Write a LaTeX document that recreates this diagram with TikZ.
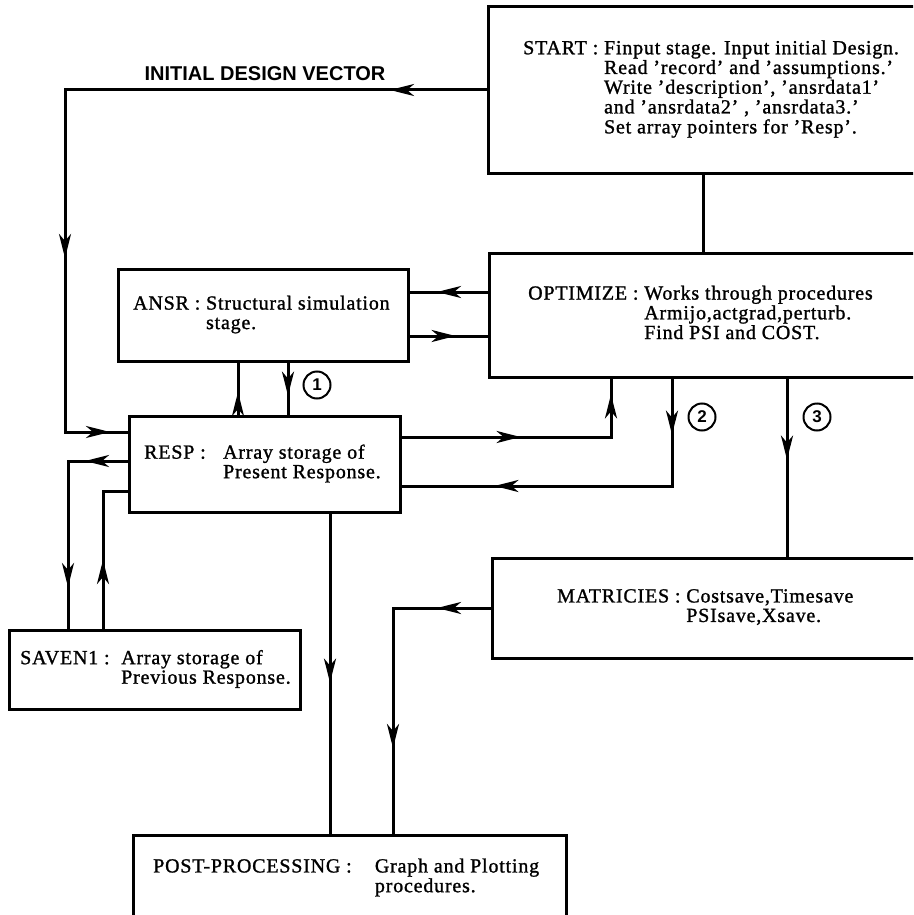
\documentclass[tikz,border=0pt]{standalone}
\usepackage{fontspec}
\setmainfont[LetterSpace=4,FakeBold=1.2]{Liberation Serif}
\newfontfamily\labelfont{Liberation Sans}
\usetikzlibrary{arrows.meta,decorations.markings}

\tikzset{
  box/.style={draw, line width=2.6pt, anchor=north west, inner sep=0pt},
  txt/.style={anchor=west, inner sep=0pt, font=\fontsize{20}{19.5}\selectfont},
  conn/.style={line width=3pt},
  tipat/.style={postaction={decorate,decoration={markings,
      mark=at position #1 with {\arrow{Stealth[length=24pt,width=12pt,inset=7pt]}}}}},
  numc/.style={circle, draw, line width=2pt, minimum size=27pt, inner sep=0pt,
      font=\labelfont\bfseries\fontsize{17}{17}\selectfont},
}

\begin{document}
\begin{tikzpicture}[x=1pt,y=-1pt]
\useasboundingbox (0,0) rectangle (913,915);
\clip (0,0) rectangle (913,915);

\node[box, minimum width=460pt, minimum height=167pt] (start) at (487,5) {};
\node[box, minimum width=460pt, minimum height=124pt] (optim) at (488,252) {};
\node[box, minimum width=290pt, minimum height=92pt] (ansr) at (117,268) {};
\node[box, minimum width=271pt, minimum height=96pt] (resp) at (128,415) {};
\node[box, minimum width=291pt, minimum height=79pt] (saven) at (8,629) {};
\node[box, minimum width=460pt, minimum height=100pt] (matr) at (491,557) {};
\node[box, minimum width=433pt, minimum height=86pt] (post) at (132,834) {};

\node[txt] (starttxt) at ([xshift=36pt]start.west) {\begin{tabular}{@{}l@{\ }l@{}}
START : & Finput stage. Input initial Design.\\
 & Read 'record' and 'assumptions.'\\
 & Write 'description', 'ansrdata1'\\
 & and 'ansrdata2' , 'ansrdata3.'\\
 & Set array pointers for 'Resp'.\end{tabular}};
\node[txt] (optimtxt) at ([xshift=40pt]optim.west) {\begin{tabular}{@{}l@{\ }l@{}}
OPTIMIZE : & Works through procedures\\
 & Armijo,actgrad,perturb.\\
 & Find PSI and COST.\end{tabular}};
\node[txt] (ansrtxt) at ([xshift=16pt]ansr.west) {\begin{tabular}{@{}l@{\ }l@{}}
ANSR : & Structural simulation\\
 & stage.\end{tabular}};
\node[txt] (resptxt) at ([xshift=16pt]resp.west) {\begin{tabular}{@{}l@{\ \ \ }l@{}}
RESP : & Array storage of\\
 & Present Response.\end{tabular}};
\node[txt] (saventxt) at ([xshift=12pt]saven.west) {\begin{tabular}{@{}l@{\ \ }l@{}}
SAVEN1 : & Array storage of\\
 & Previous Response.\end{tabular}};
\node[txt] (matrtxt) at ([xshift=66pt]matr.west) {\begin{tabular}{@{}l@{\ }l@{}}
MATRICIES : & Costsave,Timesave\\
 & PSIsave,Xsave.\end{tabular}};
\node[txt] (posttxt) at ([xshift=21pt]post.west) {\begin{tabular}{@{}l@{\ \ \ \ }l@{}}
POST-PROCESSING : & Graph and Plotting\\
 & procedures.\end{tabular}};

\node[font=\labelfont\bfseries\fontsize{20}{20}\selectfont] (idvlab) at (265,74) {INITIAL DESIGN VECTOR};
\node[numc] (n1) at (317,385) {1};
\node[numc] (n2) at (702,417) {2};
\node[numc] (n3) at (817,417) {3};

\coordinate (idv) at (65,90);
\coordinate (idvb) at (65,432);
\coordinate (sv1) at (68,461);
\coordinate (sv2) at (103,491);
\coordinate (op1) at (611,437);
\coordinate (op2) at (672,486);
\coordinate (mt) at (393,608);

\draw[conn] (start.south -| 703,0) -- (optim.north -| 703,0);
\draw[conn, tipat=97pt, tipat=590pt, tipat=809pt] (start.west |- idv) -- (idv) -- (idvb) -- (resp.west |- idvb);
\draw[conn, tipat=51pt] (optim.west |- 0,292) -- (ansr.east |- 0,292);
\draw[conn, tipat=46pt] (ansr.east |- 0,336) -- (optim.west |- 0,336);
\draw[conn, tipat=23pt] (resp.north -| 238,0) -- (ansr.south -| 238,0);
\draw[conn, tipat=33pt] (ansr.south -| 288,0) -- (resp.north -| 288,0);
\draw[conn, tipat=43pt, tipat=186pt] (resp.west |- sv1) -- (sv1) -- (saven.north -| sv1);
\draw[conn, tipat=69pt] (saven.north -| sv2) -- (sv2) -- (resp.west |- sv2);
\draw[conn, tipat=119pt, tipat=252pt] (resp.east |- op1) -- (op1) -- (optim.south -| op1);
\draw[conn, tipat=56pt, tipat=285pt] (optim.south -| op2) -- (op2) -- (resp.east |- op2);
\draw[conn, tipat=81pt] (optim.south -| 787,0) -- (matr.north -| 787,0);
\draw[conn, tipat=54pt, tipat=238pt] (matr.west |- mt) -- (mt) -- (post.north -| mt);
\draw[conn, tipat=169pt] (resp.south -| 330,0) -- (post.north -| 330,0);
\end{tikzpicture}
\end{document}
